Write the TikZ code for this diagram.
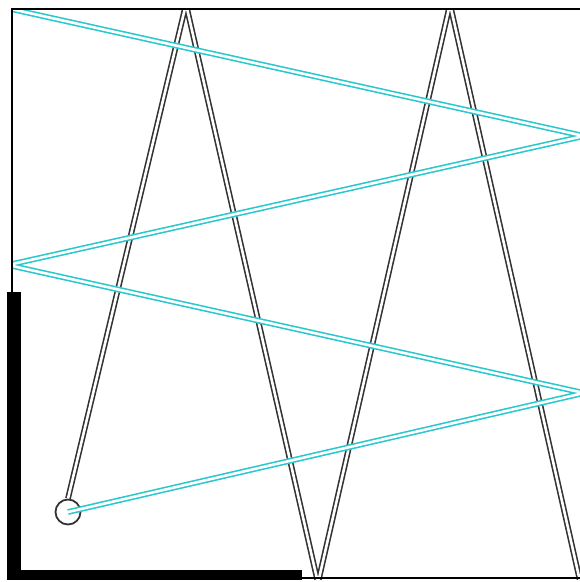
\documentclass[tikz,border=0pt]{standalone}
\definecolor{cy}{RGB}{40,200,205}
\begin{document}
\begin{tikzpicture}[x=1pt,y=-1pt,
  frame/.style={line width=1.8pt,black},
  blk/.style={draw=black!80,line width=1.6pt,double=white,double distance=2.6pt,line join=round},
  cyl/.style={draw=cy,line width=1.6pt,double=white,double distance=2.6pt,line join=round},
  ring/.style={circle,draw=black!80,line width=1.8pt,minimum size=25pt,inner sep=0pt}]
\useasboundingbox (0,0) rectangle (580,582);
% frame
\coordinate (tl) at (12,9);
\coordinate (tr) at (580,9);
\coordinate (bl) at (12,578);
\coordinate (br) at (580,578);
% thick bars
\fill[black] (7,292) rectangle (21,580);
\fill[black] (7,570) rectangle (302,580);
% ring
\node[ring] (r) at (68,512) {};
\begin{scope}
\clip (11,8) rectangle (581,579);
% black zigzag
\coordinate (b1) at (186,4);
\coordinate (b2) at (318,583);
\coordinate (b3) at (450,4);
\coordinate (b4) at (582,590);
\draw[blk] (r.north) -- (b1) -- (b2) -- (b3) -- (b4);
% cyan zigzag
\coordinate (c0) at (11,9);
\coordinate (c1) at (584,136);
\coordinate (c2) at (8,265);
\coordinate (c3) at (584,393);
\draw[cyl] (c0) -- (c1) -- (c2) -- (c3) -- (r.center);
\end{scope}
\draw[frame] (tr) -- (tl) -- (bl) -- (br);
\end{tikzpicture}
\end{document}
